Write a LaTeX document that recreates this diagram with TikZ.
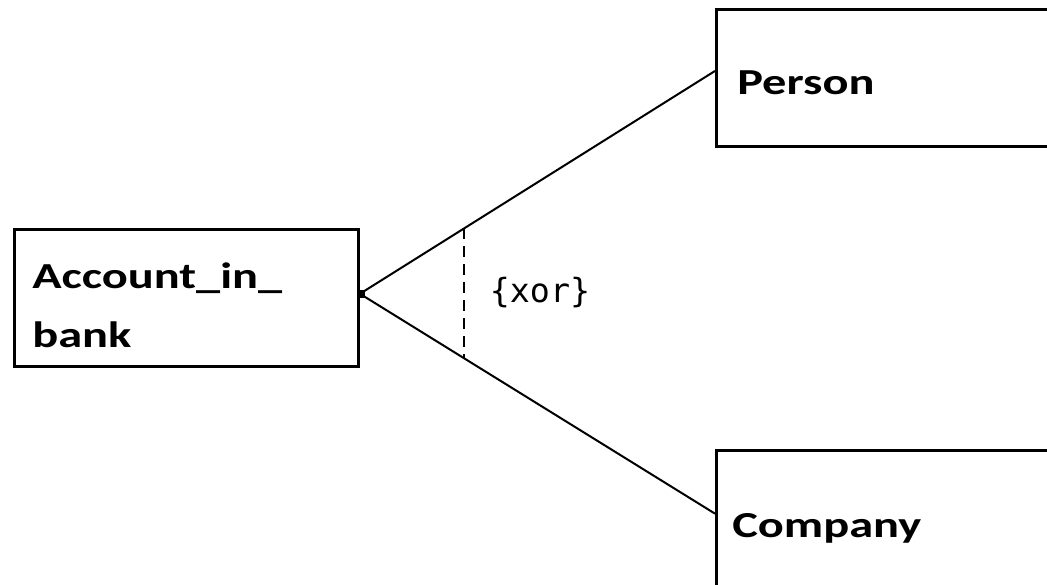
\documentclass[tikz,border=0pt]{standalone}
\usepackage{fontspec}
\usetikzlibrary{calc}
\newfontfamily\boxfont{Carlito}[FakeStretch=1.32]
\newfontfamily\notefont{DejaVu Sans Mono}
\begin{document}
\begin{tikzpicture}[x=0.75pt,y=-0.75pt,
  entity/.style={draw=black, line width=2.2pt, fill=white, inner sep=0pt,
    anchor=north west},
  classname/.style={anchor=base west, inner sep=0pt,
    font=\boxfont\bfseries\fontsize{27.5}{32}\selectfont},
  link/.style={line width=1.5pt},
  constraint/.style={line width=1.7pt, dash pattern=on 8pt off 5.5pt},
]
\useasboundingbox (0,0) rectangle (1047,585);
\clip (0,0) rectangle (1047,585);

% classes
\node[entity, minimum width=258pt, minimum height=102.75pt] (acc) at (13,228) {};
\node[entity, minimum width=260.25pt, minimum height=102.75pt] (person) at (715,8) {};
\node[entity, minimum width=260.25pt, minimum height=113.25pt] (company) at (715,449) {};

\node[classname] (acctext1) at (32,288) {Account\_in\_};
\node[classname] (acctext2) at (32,347) {bank};
\node[classname] (persontext) at (737,95) {Person};
\node[classname] (companytext) at (732,537) {Company};

% association ends
\coordinate (o) at ($(acc.north east)!0.47!(acc.south east)$);
\coordinate (p) at ($(person.north west)!0.45!(person.south west)$);
\coordinate (c) at ($(company.north west)!0.42!(company.south west)$);

\draw[link] (o) -- (p);
\draw[link] (o) -- (c);
\fill ($(o)+(-3,-4)$) rectangle ($(o)+(5,4)$);

% xor constraint
\draw[constraint] ($(o)!0.294!(p)$) -- ($(o)!0.294!(c)$);
\node[inner sep=0pt, font=\notefont\fontsize{25}{30}\selectfont] (xor) at (540,293) {\{xor\}};
\end{tikzpicture}
\end{document}
